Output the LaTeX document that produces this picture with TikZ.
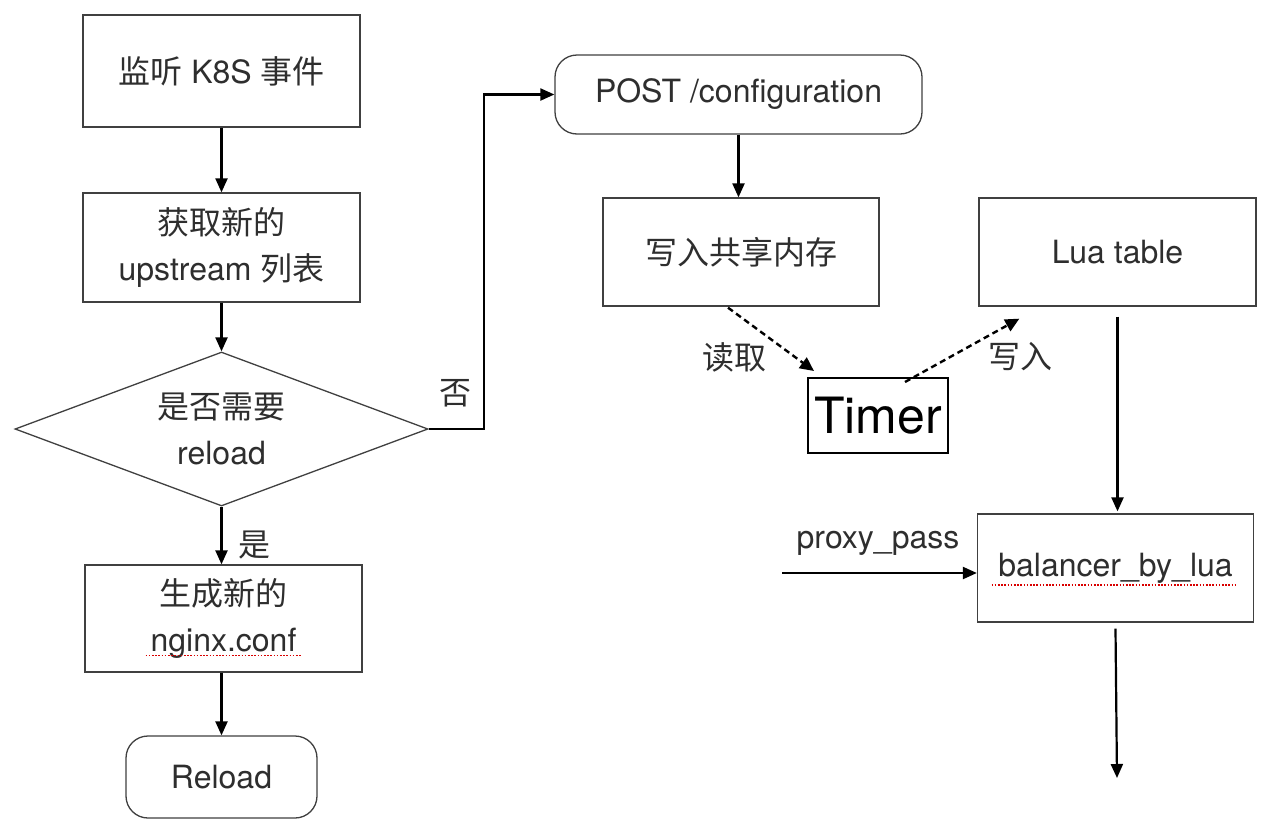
\documentclass[tikz,border=0pt]{standalone}
\usepackage{fontspec}
\setmainfont{TeX Gyre Heros}
\newfontfamily\cjk{Noto Sans CJK SC}
\usetikzlibrary{arrows.meta,shapes.geometric}
\begin{document}
\begin{tikzpicture}[x=1pt,y=-1pt,
  txt/.style={font=\fontsize{32}{46}\selectfont, text=black!82, align=center, inner sep=0pt},
  box/.style={txt, draw=black!75, line width=1.3pt, minimum width=277pt, minimum height=109pt},
  rbox/.style={box, rounded corners=22pt},
  dia/.style={txt, draw=black!75, line width=1.3pt, shape=diamond, aspect=2.68, minimum width=413pt, minimum height=154pt},
  arr/.style={line width=2.2pt, -{Triangle[length=14pt,width=12pt]}},
  darr/.style={line width=2.4pt, dash pattern=on 6pt off 4pt, -{Triangle[length=14pt,width=13pt]}},
  squig/.style={red!85!black, line width=1.8pt, dash pattern=on 1.6pt off 1.6pt},
  lab/.style={txt}
]
\useasboundingbox[fill=white] (0,0) rectangle (1280,828);

% left column
\node[box, minimum height=112pt] (k8s) at (221.5,71) {{\cjk 监听} K8S {\cjk 事件}};
\node[box] (fetch) at (221.5,247.5) {{\cjk 获取新的}\\upstream {\cjk 列表}};
\node[dia] (dec) at (221.5,429) {{\cjk 是否需要}\\reload};
\node[box, minimum height=107pt] (gen) at (223.5,618.5) {{\cjk 生成新的}\\nginx.conf};
\node[rbox, minimum width=191pt, minimum height=82pt] (reload) at (221.5,777) {Reload};

% right part
\node[rbox, minimum width=367pt, minimum height=79pt] (post) at (738.5,94.5) {POST /configuration};
\node[box, minimum width=276pt, minimum height=108pt] (shm) at (741,252) {\cjk 写入共享内存};
\node[box, minimum height=108pt] (lua) at (1117.5,252) {Lua table};
\node[txt, draw=black, line width=2pt, minimum width=140pt, minimum height=75pt, font=\fontsize{50}{60}\selectfont, text=black] (timer) at (878,415.5) {Timer};
\node[box, minimum width=276pt, minimum height=108pt] (bal) at (1115.5,568) {balancer\_by\_lua};

% labels
\node[lab] (lno) at (455,393) {\cjk 否};
\node[lab] (lyes) at (254,545) {\cjk 是};
\node[lab] (lread) at (734,357) {\cjk 读取};
\node[lab] (lwrite) at (1020,357) {\cjk 写入};
\node[lab] (lpp) at (878,543) {proxy\_pass};

% coordinates
\coordinate (noturn) at (484,429);
\coordinate (ppin) at (782,573);
\coordinate (out) at (1117,778);

% connectors
\draw[arr] (k8s.south) -- (fetch.north);
\draw[arr] (fetch.south) -- (dec.north);
\draw[arr] (dec.south) -- (dec.south |- gen.north);
\draw[arr] (gen.south -| reload.north) -- (reload.north);
\draw[arr] (dec.east) -- (noturn) |- (post.west);
\draw[arr] (post.south) -- (post.south |- shm.north);
\draw[darr] ([shift={(-13,1)}]shm.south) -- ([shift={(7,-6)}]timer.north west);
\draw[darr] ([shift={(27,5)}]timer.north) -- ([shift={(41,12)}]lua.south west);
\draw[arr] ([shift={(0,10)}]lua.south) -- ([shift={(0,-2)}]lua.south |- bal.north);
\draw[arr] (ppin) -- (ppin -| bal.west);
\draw[arr] ([shift={(0,6)}]bal.south) -- (out);

% spell-check squiggles
\draw[squig] ([shift={(-78,37)}]gen.center) -- ([shift={(77,37)}]gen.center);
\draw[squig] ([shift={(-124,17)}]bal.center) -- ([shift={(120,17)}]bal.center);
\end{tikzpicture}
\end{document}
